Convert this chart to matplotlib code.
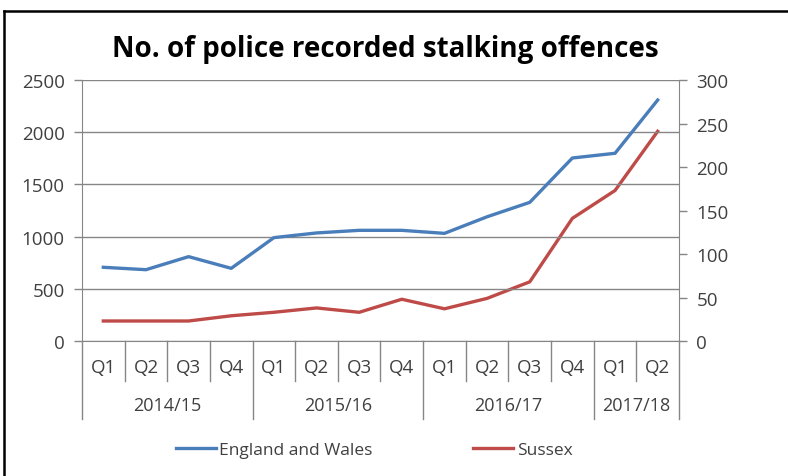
import matplotlib
matplotlib.use('Agg')
import matplotlib.pyplot as plt
import matplotlib.transforms as mtransforms
from matplotlib.lines import Line2D

plt.rcParams['font.family'] = ['Open Sans', 'DejaVu Sans']

# Data
years = ['2014/15', '2015/16', '2016/17', '2017/18']
quarters_per_year = [4, 4, 4, 2]
quarters = ['Q1', 'Q2', 'Q3', 'Q4'] * 3 + ['Q1', 'Q2']
england_wales = [706, 683, 808, 696, 990, 1035, 1060, 1060,
                 1031, 1190, 1328, 1753, 1798, 2308]
sussex = [23, 23, 23, 29, 33, 38, 33, 48,
          37, 49, 68, 141, 173, 241]

blue = '#4A7EBB'
red = '#BE4B48'
axis_grey = '#868686'
text_col = '#404040'

W, H = 788, 477
fig = plt.figure(figsize=(W / 100, H / 100), dpi=100)

# outer frame (cut off at right and bottom like the screenshot)
fig.add_artist(Line2D([4 / W, 4 / W], [0, 1 - 12 / H], transform=fig.transFigure,
                      color='black', lw=1.8))
fig.add_artist(Line2D([4 / W, 1], [1 - 12 / H, 1 - 12 / H], transform=fig.transFigure,
                      color='black', lw=1.8))

left, right, top, bottom = 82, 679, 81, 342
ax = fig.add_axes([left / W, 1 - bottom / H, (right - left) / W, (bottom - top) / H])
ax2 = ax.twinx()

n = len(quarters)
x = list(range(n))
ax.set_xlim(-0.5, n - 0.5)
ax.set_ylim(0, 2500)
ax2.set_ylim(0, 300)

ax.set_yticks(range(0, 2501, 500))
ax2.set_yticks(range(0, 301, 50))
ax.grid(axis='y', color=axis_grey, lw=1)
ax.set_axisbelow(True)

for a in (ax, ax2):
    a.spines['top'].set_visible(False)
    a.set_xticks([])
    a.tick_params(axis='y', colors=axis_grey, length=5.5, width=1,
                  labelsize=13.5, labelcolor=text_col, pad=7)
ax.spines['right'].set_visible(False)
ax.spines['left'].set_color(axis_grey)
ax.spines['bottom'].set_color(axis_grey)
ax2.spines['left'].set_visible(False)
ax2.spines['bottom'].set_visible(False)
ax2.spines['right'].set_color(axis_grey)

l1, = ax.plot(x, england_wales, color=blue, lw=2.4, solid_joinstyle='round')
l2, = ax2.plot(x, sussex, color=red, lw=2.4, solid_joinstyle='round')
ax.set_zorder(ax2.get_zorder() + 1)
ax.patch.set_visible(False)

# two-level category axis
trans = mtransforms.blended_transform_factory(ax.transData, ax.transAxes)
px = 1 / (bottom - top)
for i, q in enumerate(quarters):
    ax.text(i, -26 * px, q, transform=trans, ha='center', va='center',
            fontsize=13.5, color=text_col)
start = 0
for yr, cnt in zip(years, quarters_per_year):
    ax.text(start + (cnt - 1) / 2, -64 * px, yr, transform=trans, ha='center',
            va='center', fontsize=13, color=text_col)
    for j in range(1, cnt):
        b = start + j - 0.5
        ax.plot([b, b], [0, -40 * px], transform=trans, color=axis_grey,
                lw=1, clip_on=False)
    b = start - 0.5
    ax.plot([b, b], [0, -78 * px], transform=trans, color=axis_grey,
            lw=1, clip_on=False)
    start += cnt
ax.plot([n - 0.5, n - 0.5], [0, -78 * px], transform=trans, color=axis_grey,
        lw=1, clip_on=False)

fig.text(385 / W, 1 - 50 / H, 'No. of police recorded stalking offences',
         ha='center', va='center', fontsize=20, fontweight='bold', color='black')

fig.legend([l1, l2], ['England and Wales', 'Sussex'], loc='center',
           bbox_to_anchor=(374 / W, 1 - 451 / H), ncol=2, frameon=False,
           fontsize=12.5, handlelength=2.3, handletextpad=0.2, columnspacing=5.8,
           labelcolor=text_col)

fig.savefig('out.png', dpi=100)
